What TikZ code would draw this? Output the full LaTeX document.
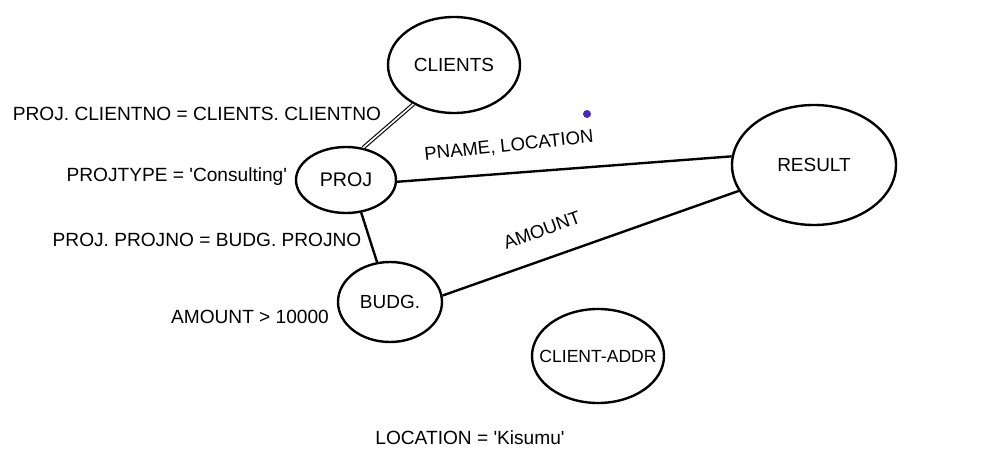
\documentclass[tikz,border=0pt]{standalone}
\usepackage{fontspec}
\setmainfont{Liberation Sans}
\usepackage{tikz}
\usetikzlibrary{shapes,positioning}
\definecolor{dotblue}{RGB}{72,44,180}

\begin{document}
\begin{tikzpicture}[
    rel/.style={draw=black, ellipse, line width=1.7pt, inner sep=0pt,
                align=center, font=\fontsize{13.5}{16}\selectfont},
    cond/.style={font=\fontsize{13.6}{16}\selectfont},
    link/.style={line width=1.7pt, black},
    attr/.style={font=\fontsize{13.2}{16}\selectfont}
]
\useasboundingbox (0,0) rectangle (25.1,11.8);

% Relations
\node[rel, minimum width=3.3cm, minimum height=2.4cm] (clients) at (11.35,10.175) {CLIENTS};
\node[rel, minimum width=2.5cm, minimum height=1.65cm, font=\fontsize{14}{16}\selectfont] (proj) at (8.65,7.3) {PROJ};
\node[rel, minimum width=2.6cm, minimum height=2.0cm, font=\fontsize{13.5}{16}\selectfont] (budg) at (9.75,4.25) {\makebox[0pt]{BUDG.}};
\node[rel, minimum width=4.1cm, minimum height=3.0cm] (result) at (20.35,7.675) {RESULT};
\node[rel, minimum width=3.3cm, minimum height=2.35cm, font=\fontsize{12.5}{14}\selectfont] (addr) at (14.95,2.9) {\makebox[0pt]{CLIENT-ADDR}};

% Stray dot
\fill[dotblue] (14.675,8.95) circle (0.1) node (dot) {};

% Joins
\draw[double, line width=0.8pt, double distance=1.2pt] (clients.224) -- (proj.62);
\draw[link] (proj.-65) -- (budg.108);
\draw[link] (proj.-2) -- (result.174);
\draw[link] (budg.7) -- (result.199);

% Conditions
\node[cond] (cjoin) at (4.925,8.95) {PROJ. CLIENTNO = CLIENTS. CLIENTNO};
\node[cond, anchor=east] (ctype) at (7.3,7.375) {PROJTYPE = \textquotesingle Consulting\textquotesingle};
\node[cond] (bjoin) at (5.175,5.8) {PROJ. PROJNO = BUDG. PROJNO};
\node[cond] (amt) at (6.25,3.875) {AMOUNT > 10000};
\node[cond] (loc) at (11.75,0.85) {LOCATION = \textquotesingle Kisumu\textquotesingle};

% Projected attributes
\node[attr, rotate=6] (pname) at (12.725,8.15) {PNAME, LOCATION};
\node[attr, rotate=20] (amount) at (13.55,6.05) {AMOUNT};

\end{tikzpicture}
\end{document}
